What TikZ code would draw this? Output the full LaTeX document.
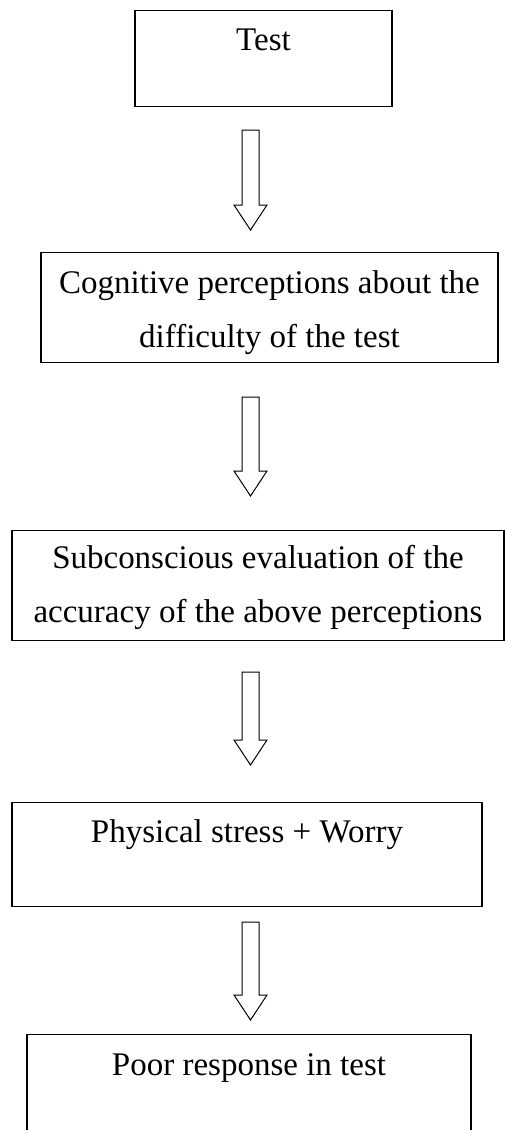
\documentclass[tikz,border=0pt]{standalone}
\usepackage{fontspec}
\setmainfont{Liberation Serif}
\usepackage{tikz}
\usetikzlibrary{shapes,positioning,calc}
\tikzset{box/.style={rectangle,draw,line width=1.4pt,inner sep=0pt,anchor=north,align=center,font=\fontsize{33}{54}\selectfont}}
\tikzset{blockarrow/.style={draw,line width=1pt,to path={let \p1=(\tikztostart),\p2=(\tikztotarget) in (\x1-8.5pt,\y1) -- (\x1+8.5pt,\y1) -- (\x1+8.5pt,\y2+25pt) -- (\x1+16.5pt,\y2+25pt) -- (\x1,\y2) -- (\x1-16.5pt,\y2+25pt) -- (\x1-8.5pt,\y2+25pt) -- cycle}}}

\begin{document}
\begin{tikzpicture}[x=1pt,y=-1pt]
    \useasboundingbox (0,0) rectangle (505,1130);

    \node[box,minimum width=257pt,text height=40pt,text depth=56pt] (a)at (263.5,10) {Test};
    \node[box,minimum width=457pt,text height=95pt,text depth=15pt] (b)at (269.5,252) {Cognitive perceptions about the\\difficulty of the test};
    \node[box,minimum width=492pt,text height=92pt,text depth=18pt] (c)at (258,530) {Subconscious evaluation of the\\accuracy of the above perceptions};
    \node[box,minimum width=470pt,text height=40pt,text depth=64pt] (d)at (247,802) {Physical stress + Worry};
    \node[box,minimum width=444pt,text height=41pt,text depth=120pt] (e)at (249,1034) {Poor response in test};

    \coordinate (p)at (250.5,130);
    \coordinate (q)at (250.5,230);
    \coordinate (r)at (250.5,397);
    \coordinate (s)at (250.5,496);
    \coordinate (t)at (250.5,672);
    \coordinate (u)at (250.5,765);
    \coordinate (v)at (250.5,922);
    \coordinate (w)at (250.5,1020);

    \draw [blockarrow] (p) to [] (q);
    \draw [blockarrow] (r) to [] (s);
    \draw [blockarrow] (t) to [] (u);
    \draw [blockarrow] (v) to [] (w);
\end{tikzpicture}
\end{document}
